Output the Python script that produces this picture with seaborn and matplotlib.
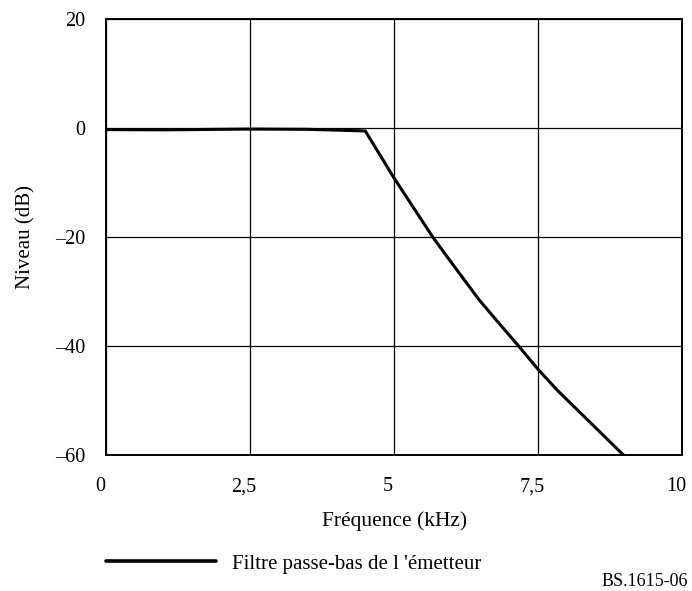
import matplotlib
matplotlib.use("Agg")
import matplotlib.pyplot as plt
import matplotlib.transforms as mtransforms
import seaborn as sns
import pandas as pd

# Transmitter low-pass filter response
freq_khz = [0.0, 1.0, 2.5, 3.5, 4.5, 5.0, 5.67, 5.96, 6.48, 6.77, 7.16, 7.5, 7.83, 8.98]
level_db = [-0.3, -0.35, -0.2, -0.25, -0.55, -9.2, -20.0, -24.2, -31.6, -35.2, -40.0, -44.3, -48.1, -60.0]

x_ticks = [0, 2.5, 5, 7.5, 10]
x_tick_labels = ["0", "2,5", "5", "7,5", "10"]
y_ticks = [20, 0, -20, -40, -60]
y_tick_labels = ["20", "0", "\u201320", "\u201340", "\u201360"]

series_label = "Filtre passe-bas de l 'émetteur"

sns.set_theme(style="white")
plt.rcParams["font.family"] = ["Liberation Serif", "DejaVu Serif"]
plt.rcParams["text.color"] = "black"
plt.rcParams["axes.labelcolor"] = "black"
plt.rcParams["xtick.color"] = "black"
plt.rcParams["ytick.color"] = "black"

fig = plt.figure(figsize=(6.92, 5.91), dpi=100)
ax = fig.add_axes([0.153, 0.230, 0.833, 0.738])

df = pd.DataFrame({"f": freq_khz, "lvl": level_db})
sns.lineplot(data=df, x="f", y="lvl", ax=ax, color="black", linewidth=2.2,
             label=series_label, legend=False)

ax.set_xlim(0, 10)
ax.set_ylim(-60, 20)
ax.set_xticks(x_ticks)
ax.set_xticklabels(x_tick_labels)
ax.set_yticks(y_ticks)
ax.set_yticklabels(y_tick_labels)
ax.tick_params(axis="both", length=0, labelsize=14.5)
ax.tick_params(axis="x", pad=16)
ax.tick_params(axis="y", pad=15)
shift = mtransforms.ScaledTranslation(-6 / 100, 0, fig.dpi_scale_trans)
for lbl in ax.get_xticklabels():
    lbl.set_transform(lbl.get_transform() + shift)
ax.grid(True, color="black", linewidth=0.9)
for s in ax.spines.values():
    s.set_color("black")
    s.set_linewidth(1.4)

ax.set_xlabel("Fréquence (kHz)", fontsize=15.5, labelpad=11)
ax.set_ylabel("Niveau (dB)", fontsize=15, labelpad=14)

handles, labels = ax.get_legend_handles_labels()
leg = fig.legend(handles, labels, loc="center left", bbox_to_anchor=(0.126, 0.046),
                 frameon=False, fontsize=15, handlelength=5.3, handletextpad=0.75)
for line in leg.get_lines():
    line.set_linewidth(2.6)

fig.text(0.994, 0.009, "BS.1615-06", ha="right", va="baseline", fontsize=13)

fig.savefig("out.png", dpi=100)
